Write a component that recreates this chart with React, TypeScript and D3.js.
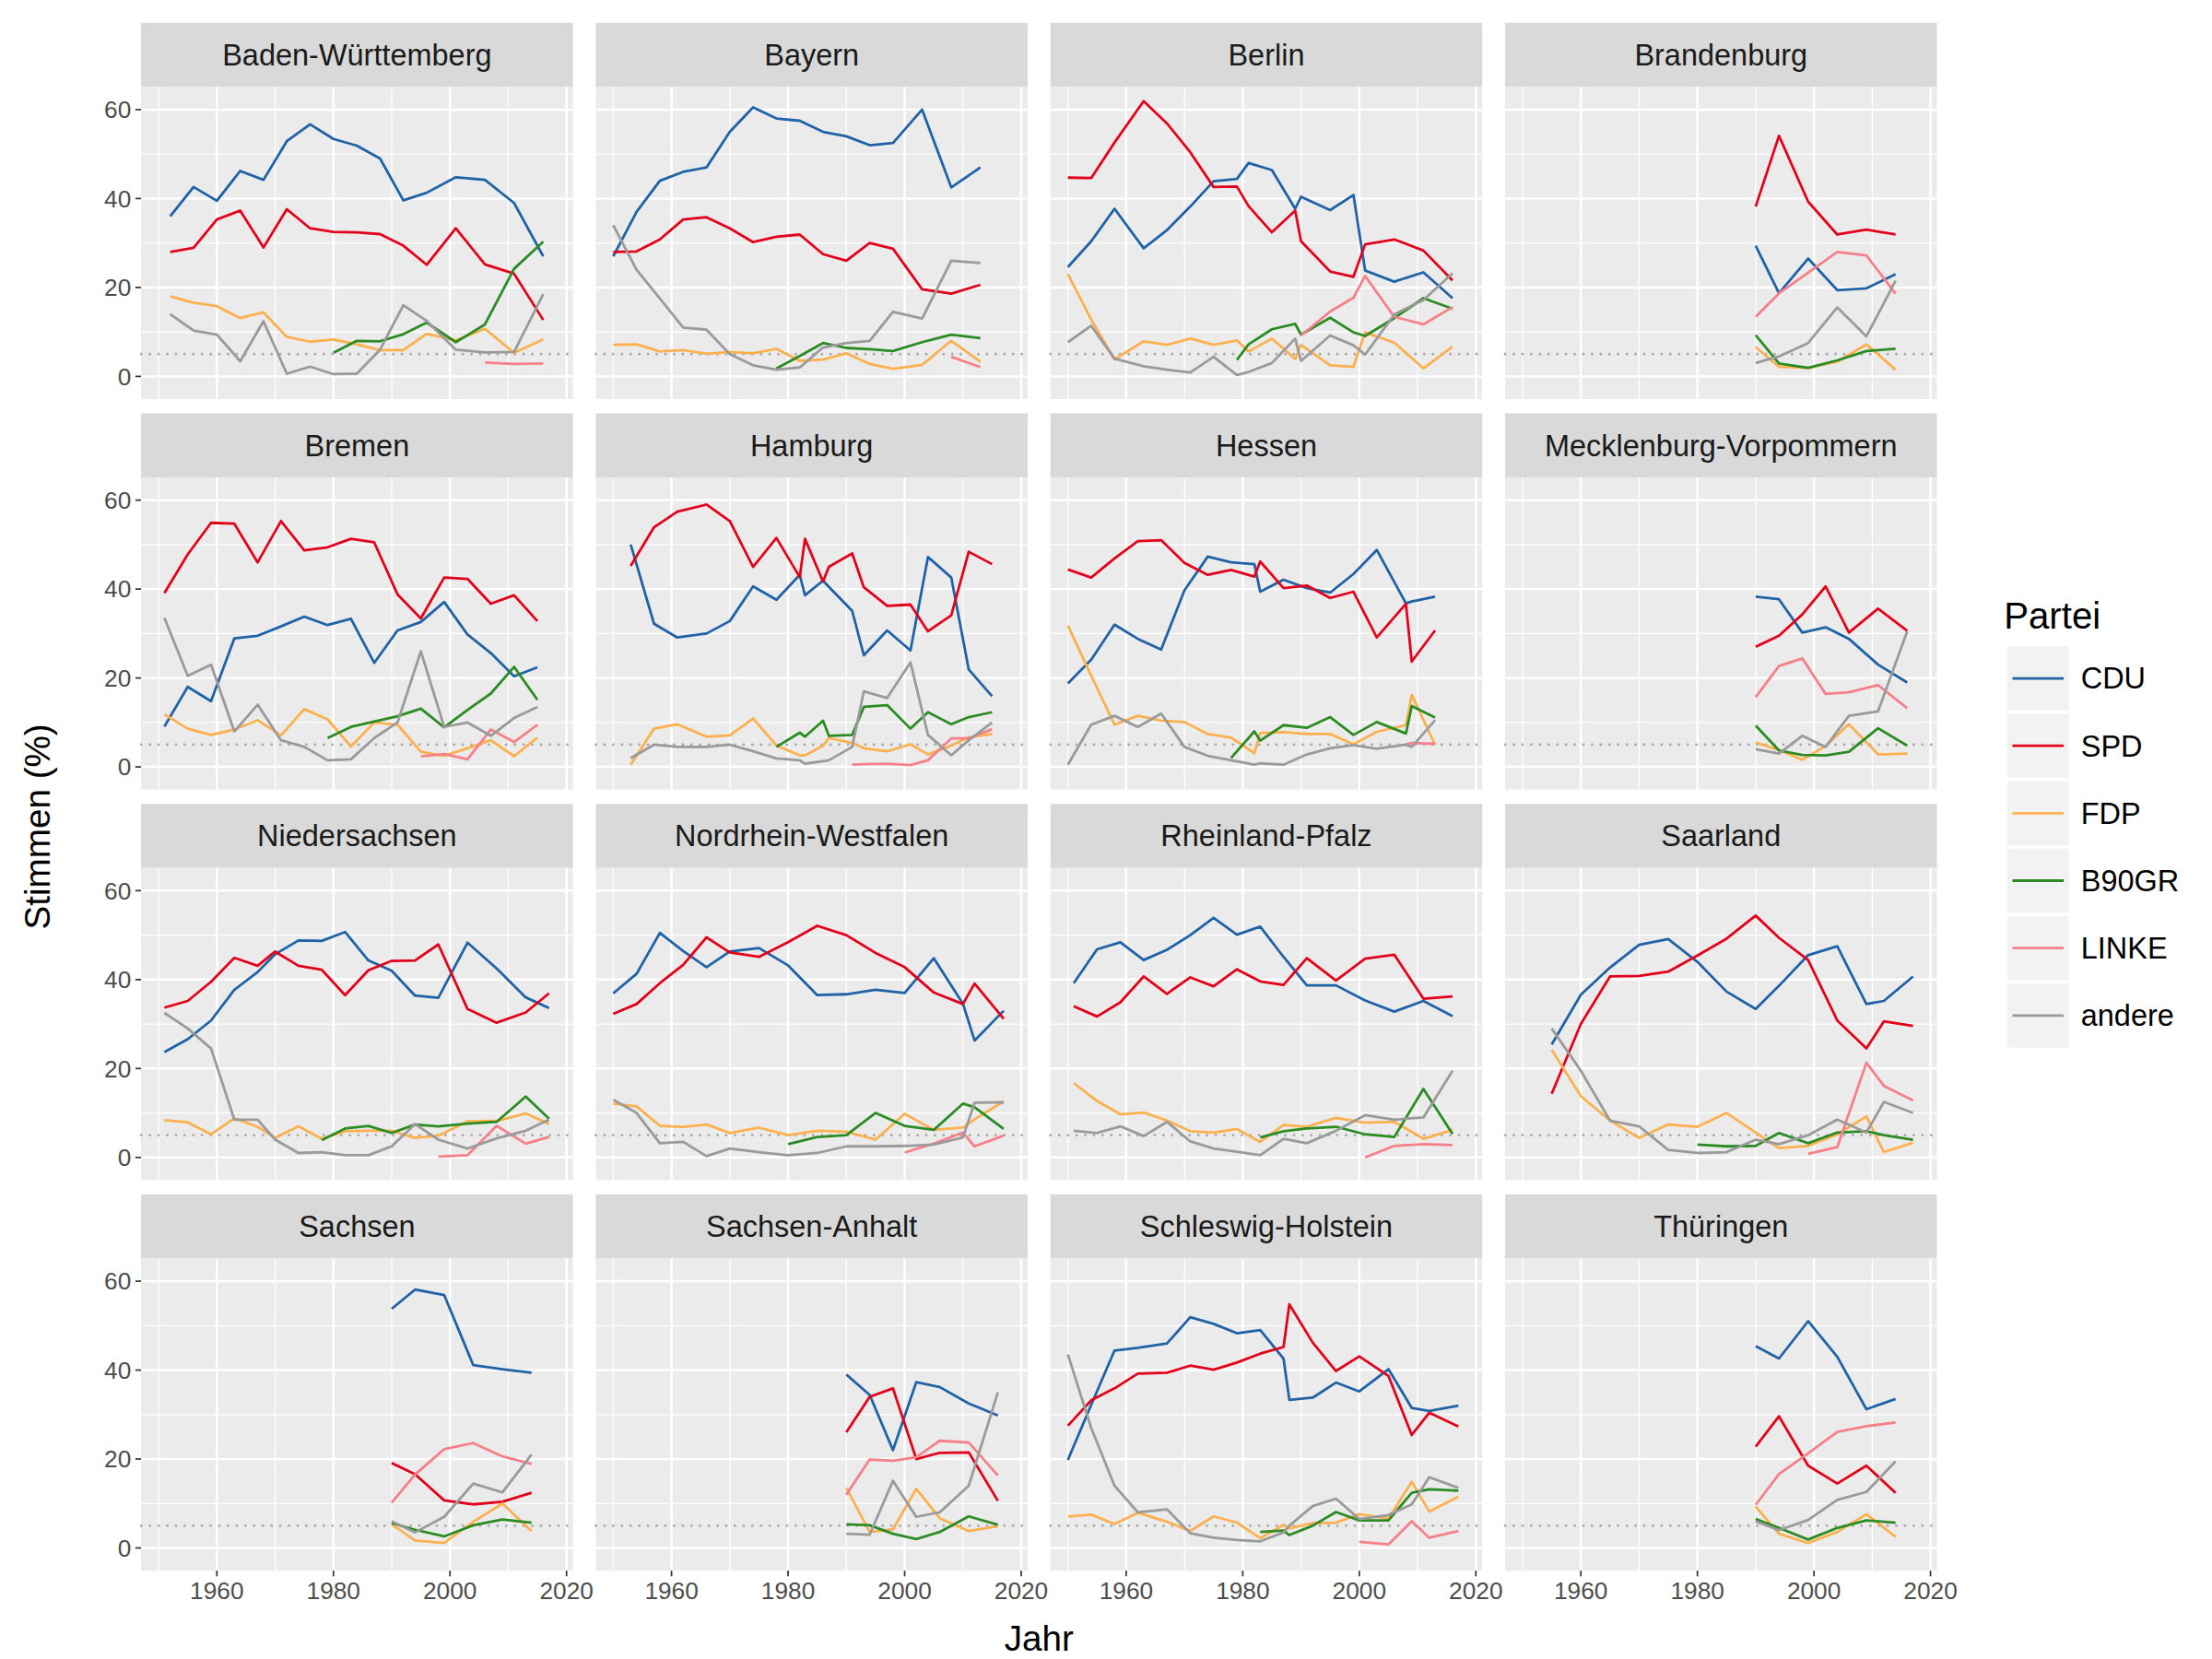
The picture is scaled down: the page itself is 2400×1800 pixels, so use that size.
import React from 'react'
import * as d3 from 'd3'

// Landtagswahlen: Stimmenanteile (%) je Partei, null = nicht angetreten
const parties = ['CDU', 'SPD', 'FDP', 'B90GR', 'LINKE', 'andere']
const partyColors = ['#1f62a5', '#e2001a', '#fdb04e', '#2a8c22', '#f6808a', '#9a9a9a']
const _ = null

const BW = {
  name: 'Baden-Württemberg',
  years: [1952, 1956, 1960, 1964, 1968, 1972, 1976, 1980, 1984, 1988, 1992, 1996, 2001, 2006, 2011, 2016],
  CDU: [36, 42.6, 39.5, 46.2, 44.2, 52.9, 56.7, 53.4, 51.9, 49, 39.6, 41.3, 44.8, 44.2, 39, 27],
  SPD: [28, 28.9, 35.3, 37.3, 29, 37.6, 33.3, 32.5, 32.4, 32, 29.4, 25.1, 33.3, 25.2, 23.1, 12.7],
  FDP: [18, 16.6, 15.8, 13.1, 14.4, 8.9, 7.8, 8.3, 7.2, 5.9, 5.9, 9.6, 8.1, 10.7, 5.3, 8.3],
  B90GR: [_, _, _, _, _, _, _, 5.3, 8, 7.9, 9.5, 12.1, 7.7, 11.7, 24.2, 30.3],
  LINKE: [_, _, _, _, _, _, _, _, _, _, _, _, _, 3.1, 2.8, 2.9],
  andere: [14, 10.3, 9.4, 3.4, 12.4, 0.6, 2.2, 0.5, 0.6, 6, 16, 12.5, 6, 5.4, 5.5, 18.5],
}
const BY = {
  name: 'Bayern',
  years: [1950, 1954, 1958, 1962, 1966, 1970, 1974, 1978, 1982, 1986, 1990, 1994, 1998, 2003, 2008, 2013],
  CDU: [27, 37, 44, 46, 47, 55, 60.5, 58, 57.5, 55, 54, 52, 52.5, 60, 42.5, 47],
  SPD: [28, 28.1, 30.8, 35.3, 35.8, 33.3, 30.2, 31.4, 31.9, 27.5, 26, 30, 28.7, 19.6, 18.6, 20.6],
  FDP: [7.1, 7.2, 5.6, 5.9, 5.1, 5.5, 5.2, 6.2, 3.5, 3.8, 5.2, 2.8, 1.7, 2.6, 8, 3.3],
  B90GR: [_, _, _, _, _, _, _, 1.8, 4.6, 7.5, 6.4, 6.1, 5.7, 7.7, 9.4, 8.6],
  LINKE: [_, _, _, _, _, _, _, _, _, _, _, _, _, _, 4.4, 2.1],
  andere: [34, 24, 17.5, 11, 10.5, 5, 2.5, 1.5, 2, 6.5, 7.5, 8, 14.5, 13, 26, 25.5],
}
const BE = {
  name: 'Berlin',
  years: [1950, 1954, 1958, 1963, 1967, 1971, 1975, 1979, 1981, 1985, 1989, 1990, 1995, 1999, 2001, 2006, 2011, 2016],
  CDU: [24.6, 30.4, 37.7, 28.8, 32.9, 38.2, 43.9, 44.4, 48, 46.4, 37.7, 40.4, 37.4, 40.8, 23.8, 21.3, 23.4, 17.6],
  SPD: [44.7, 44.6, 52.6, 61.9, 56.9, 50.4, 42.6, 42.7, 38.3, 32.4, 37.3, 30.4, 23.6, 22.4, 29.7, 30.8, 28.3, 21.6],
  FDP: [23, 12.8, 3.8, 7.9, 7.1, 8.5, 7.1, 8.1, 5.6, 8.5, 3.9, 7.1, 2.5, 2.2, 9.9, 7.6, 1.8, 6.7],
  B90GR: [_, _, _, _, _, _, _, 3.7, 7.2, 10.6, 11.8, 9.4, 13.2, 9.9, 9.1, 13.1, 17.6, 15.2],
  LINKE: [_, _, _, _, _, _, _, _, _, _, _, 9.2, 14.6, 17.7, 22.6, 13.4, 11.7, 15.6],
  andere: [7.7, 11.4, 4, 2.3, 1.5, 0.9, 4.4, 0.3, 1, 3, 8.5, 3.5, 9.2, 7, 4.9, 13.9, 17.2, 23.2],
}
const BB = {
  name: 'Brandenburg',
  years: [1990, 1994, 1999, 2004, 2009, 2014],
  CDU: [29.4, 18.7, 26.5, 19.4, 19.8, 23],
  SPD: [38.2, 54.1, 39.3, 31.9, 33, 31.9],
  FDP: [6.6, 2.2, 1.9, 3.3, 7.2, 1.5],
  B90GR: [9.3, 2.9, 1.9, 3.6, 5.7, 6.2],
  LINKE: [13.4, 18.7, 23.3, 28, 27.2, 18.6],
  andere: [3, 4.5, 7.5, 15.5, 9, 21.5],
}
const HB = {
  name: 'Bremen',
  years: [1951, 1955, 1959, 1963, 1967, 1971, 1975, 1979, 1983, 1987, 1991, 1995, 1999, 2003, 2007, 2011, 2015],
  CDU: [9.1, 18, 14.8, 28.9, 29.5, 31.6, 33.8, 31.9, 33.3, 23.4, 30.7, 32.6, 37.1, 29.8, 25.6, 20.4, 22.4],
  SPD: [39.1, 47.8, 54.9, 54.7, 46, 55.3, 48.7, 49.4, 51.3, 50.5, 38.8, 33.4, 42.6, 42.3, 36.7, 38.6, 32.8],
  FDP: [11.8, 8.6, 7.2, 8.4, 10.5, 7.1, 13, 10.7, 4.6, 10, 9.5, 3.4, 2.5, 4.2, 6, 2.4, 6.6],
  B90GR: [_, _, _, _, _, _, _, 6.5, 9, 10.2, 11.4, 13.1, 8.9, 12.8, 16.5, 22.5, 15.1],
  LINKE: [_, _, _, _, _, _, _, _, _, _, _, 2.4, 2.9, 1.7, 8.4, 5.6, 9.5],
  andere: [33.5, 20.5, 23, 8, 14, 6, 4.5, 1.5, 1.7, 6.5, 10, 26, 9, 10, 7, 11, 13.5],
}
const HH = {
  name: 'Hamburg',
  years: [1953, 1957, 1961, 1966, 1970, 1974, 1978, 1982, 1982.9, 1986, 1987, 1991, 1993, 1997, 2001, 2004, 2008, 2011, 2015],
  CDU: [50, 32.2, 29.1, 30, 32.8, 40.6, 37.6, 43.2, 38.6, 41.9, 40.5, 35.1, 25.1, 30.7, 26.2, 47.2, 42.6, 21.9, 15.9],
  SPD: [45.2, 53.9, 57.4, 59, 55.3, 45, 51.5, 42.7, 51.3, 41.7, 45, 48, 40.4, 36.2, 36.5, 30.5, 34.1, 48.4, 45.6],
  FDP: [0.5, 8.6, 9.6, 6.8, 7.1, 10.9, 4.8, 2.6, 2.6, 4.8, 6.5, 5.4, 4.2, 3.5, 5.1, 2.8, 4.8, 6.7, 7.4],
  B90GR: [_, _, _, _, _, _, 4.5, 7.7, 6.8, 10.4, 7, 7.2, 13.5, 13.9, 8.6, 12.3, 9.6, 11.2, 12.3],
  LINKE: [_, _, _, _, _, _, _, _, _, _, _, 0.5, 0.6, 0.7, 0.4, 1.5, 6.4, 6.4, 8.5],
  andere: [2, 5, 4.5, 4.5, 5, 3.5, 1.9, 1.5, 0.7, 1.3, 1.5, 4.5, 17, 15.5, 23.5, 7.2, 2.6, 6, 10],
}
const HE = {
  name: 'Hessen',
  years: [1950, 1954, 1958, 1962, 1966, 1970, 1974, 1978, 1982, 1983, 1987, 1991, 1995, 1999, 2003, 2008, 2009, 2013],
  CDU: [18.8, 24.1, 32, 28.8, 26.4, 39.7, 47.3, 46, 45.6, 39.4, 42.1, 40.2, 39.2, 43.4, 48.8, 36.8, 37.2, 38.3],
  SPD: [44.4, 42.6, 46.9, 50.8, 51, 45.9, 43.2, 44.3, 42.8, 46.2, 40.2, 40.8, 38, 39.4, 29.1, 36.7, 23.7, 30.7],
  FDP: [31.8, 20.5, 9.5, 11.5, 10.4, 10.1, 7.4, 6.6, 3.1, 7.6, 7.8, 7.4, 7.4, 5.1, 7.9, 9.4, 16.2, 5],
  B90GR: [_, _, _, _, _, _, _, 2, 8, 5.9, 9.4, 8.8, 11.2, 7.2, 10.1, 7.5, 13.7, 11.1],
  LINKE: [_, _, _, _, _, _, _, _, _, _, _, _, _, _, _, 5.1, 5.4, 5.2],
  andere: [0.5, 9.5, 11.5, 9, 12, 4.5, 2.5, 1.5, 0.5, 0.8, 0.5, 2.8, 4.2, 4.9, 4.1, 5, 4.5, 10.5],
}
const MV = {
  name: 'Mecklenburg-Vorpommern',
  years: [1990, 1994, 1998, 2002, 2006, 2011, 2016],
  CDU: [38.3, 37.7, 30.2, 31.4, 28.8, 23, 19],
  SPD: [27, 29.5, 34.3, 40.6, 30.2, 35.6, 30.6],
  FDP: [5.5, 3.8, 1.6, 4.7, 9.6, 2.8, 3],
  B90GR: [9.3, 3.7, 2.7, 2.6, 3.4, 8.7, 4.8],
  LINKE: [15.7, 22.7, 24.4, 16.4, 16.8, 18.4, 13.2],
  andere: [4, 3, 7, 4.5, 11.5, 12.5, 30.5],
}
const NI = {
  name: 'Niedersachsen',
  years: [1951, 1955, 1959, 1963, 1967, 1970, 1974, 1978, 1982, 1986, 1990, 1994, 1998, 2003, 2008, 2013, 2017],
  CDU: [23.7, 26.6, 30.8, 37.7, 41.7, 45.7, 48.8, 48.7, 50.7, 44.3, 42, 36.4, 35.9, 48.3, 42.5, 36, 33.6],
  SPD: [33.7, 35.2, 39.5, 44.9, 43.1, 46.3, 43.1, 42.2, 36.5, 42.1, 44.2, 44.3, 47.9, 33.4, 30.3, 32.6, 36.9],
  FDP: [8.4, 7.9, 5.2, 8.8, 6.9, 4.4, 7, 4.2, 5.9, 6, 6, 4.4, 4.9, 8.1, 8.2, 9.9, 7.5],
  B90GR: [_, _, _, _, _, _, _, 3.9, 6.5, 7.1, 5.5, 7.4, 7, 7.6, 8, 13.7, 8.7],
  LINKE: [_, _, _, _, _, _, _, _, _, _, _, _, 0.2, 0.5, 7.1, 3.1, 4.6],
  andere: [32.5, 29, 24.5, 8.5, 8.5, 4, 1, 1.2, 0.5, 0.5, 2.5, 7.5, 4, 2, 4.3, 6, 8.5],
}
const NW = {
  name: 'Nordrhein-Westfalen',
  years: [1950, 1954, 1958, 1962, 1966, 1970, 1975, 1980, 1985, 1990, 1995, 2000, 2005, 2010, 2012, 2017],
  CDU: [36.9, 41.3, 50.5, 46.4, 42.8, 46.3, 47.1, 43.2, 36.5, 36.7, 37.7, 37, 44.8, 34.6, 26.3, 33],
  SPD: [32.3, 34.5, 39.2, 43.3, 49.5, 46.1, 45.1, 48.4, 52.1, 50, 46, 42.8, 37.1, 34.5, 39.1, 31.2],
  FDP: [12.1, 11.5, 7.1, 6.9, 7.4, 5.5, 6.7, 5, 6, 5.8, 4, 9.8, 6.2, 6.7, 8.6, 12.6],
  B90GR: [_, _, _, _, _, _, _, 3, 4.6, 5, 10, 7.1, 6.2, 12.1, 11.3, 6.4],
  LINKE: [_, _, _, _, _, _, _, _, _, _, _, 1.1, 3.1, 5.6, 2.5, 4.9],
  andere: [13, 10, 3.2, 3.5, 0.3, 2, 1.2, 0.5, 1, 2.5, 2.5, 2.6, 2.9, 4.5, 12.3, 12.4],
}
const RP = {
  name: 'Rheinland-Pfalz',
  years: [1951, 1955, 1959, 1963, 1967, 1971, 1975, 1979, 1983, 1987, 1991, 1996, 2001, 2006, 2011, 2016],
  CDU: [39.2, 46.8, 48.4, 44.4, 46.7, 50, 53.9, 50.1, 51.9, 45.1, 38.7, 38.7, 35.3, 32.8, 35.2, 31.8],
  SPD: [34, 31.7, 34.9, 40.7, 36.8, 40.5, 38.5, 42.3, 39.6, 38.8, 44.8, 39.8, 44.7, 45.6, 35.7, 36.2],
  FDP: [16.7, 12.7, 9.7, 10.1, 8.3, 5.9, 5.6, 6.4, 3.5, 7.3, 6.9, 8.9, 7.8, 8, 4.2, 6.2],
  B90GR: [_, _, _, _, _, _, _, _, 4.5, 5.9, 6.5, 6.9, 5.2, 4.6, 15.4, 5.3],
  LINKE: [_, _, _, _, _, _, _, _, _, _, _, _, 0, 2.6, 3, 2.8],
  andere: [6, 5.5, 7, 4.8, 8, 3.6, 2, 1.3, 0.5, 4.2, 3.2, 6, 9.5, 8.5, 9, 19.5],
}
const SL = {
  name: 'Saarland',
  years: [1955, 1960, 1965, 1970, 1975, 1980, 1985, 1990, 1994, 1999, 2004, 2009, 2012, 2017],
  CDU: [25.4, 36.6, 42.7, 47.8, 49.1, 44, 37.3, 33.4, 38.6, 45.5, 47.5, 34.5, 35.2, 40.7],
  SPD: [14.3, 30, 40.7, 40.8, 41.8, 45.4, 49.2, 54.4, 49.4, 44.4, 30.8, 24.5, 30.6, 29.6],
  FDP: [24.2, 13.8, 8.3, 4.4, 7.4, 6.9, 10, 5.6, 2.1, 2.6, 5.2, 9.2, 1.2, 3.3],
  B90GR: [_, _, _, _, _, 2.9, 2.5, 2.6, 5.5, 3.2, 5.6, 5.9, 5, 4],
  LINKE: [_, _, _, _, _, _, _, _, _, 0.8, 2.3, 21.3, 16.1, 12.8],
  andere: [29, 19.5, 8.3, 7, 1.7, 1, 1.2, 4, 3, 5, 8.5, 5.6, 12.5, 10],
}
const SN = {
  name: 'Sachsen',
  years: [1990, 1994, 1999, 2004, 2009, 2014],
  CDU: [53.8, 58.1, 56.9, 41.1, 40.2, 39.4],
  SPD: [19.1, 16.6, 10.7, 9.8, 10.4, 12.4],
  FDP: [5.3, 1.7, 1.1, 5.9, 10, 3.8],
  B90GR: [5.6, 4.1, 2.6, 5.1, 6.4, 5.7],
  LINKE: [10.2, 16.5, 22.2, 23.6, 20.6, 18.9],
  andere: [6, 3.5, 7, 14.5, 12.5, 21],
}
const ST = {
  name: 'Sachsen-Anhalt',
  years: [1990, 1994, 1998, 2002, 2006, 2011, 2016],
  CDU: [39, 34.4, 22, 37.3, 36.2, 32.5, 29.8],
  SPD: [26, 34, 35.9, 20, 21.4, 21.5, 10.6],
  FDP: [13.5, 3.6, 4.2, 13.3, 6.7, 3.8, 4.9],
  B90GR: [5.3, 5.1, 3.2, 2, 3.6, 7.1, 5.2],
  LINKE: [12, 19.9, 19.6, 20.4, 24.1, 23.7, 16.3],
  andere: [3.2, 3, 15.1, 7, 8, 14, 35],
}
const SH = {
  name: 'Schleswig-Holstein',
  years: [1950, 1954, 1958, 1962, 1967, 1971, 1975, 1979, 1983, 1987, 1988, 1992, 1996, 2000, 2005, 2009, 2012, 2017],
  CDU: [19.8, 32.2, 44.4, 45, 46, 51.9, 50.4, 48.3, 49, 42.6, 33.3, 33.8, 37.2, 35.2, 40.2, 31.5, 30.8, 32],
  SPD: [27.5, 33.2, 35.9, 39.2, 39.4, 41, 40.1, 41.7, 43.7, 45.2, 54.8, 46.2, 39.8, 43.1, 38.7, 25.4, 30.4, 27.3],
  FDP: [7.1, 7.5, 5.4, 7.9, 5.9, 3.8, 7.1, 5.7, 2.2, 5.2, 4.4, 5.6, 5.7, 7.6, 6.6, 14.9, 8.2, 11.5],
  B90GR: [_, _, _, _, _, _, _, _, 3.6, 3.9, 2.9, 5, 8.1, 6.2, 6.2, 12.4, 13.2, 12.9],
  LINKE: [_, _, _, _, _, _, _, _, _, _, _, _, _, 1.4, 0.8, 6, 2.3, 3.8],
  andere: [43.5, 27, 14, 8, 8.7, 3.3, 2.3, 1.8, 1.5, 3.5, 5, 9.4, 11.1, 6.5, 7.4, 9.8, 15.9, 13.5],
}
const TH = {
  name: 'Thüringen',
  years: [1990, 1994, 1999, 2004, 2009, 2014],
  CDU: [45.4, 42.6, 51, 43, 31.2, 33.5],
  SPD: [22.8, 29.6, 18.5, 14.5, 18.5, 12.4],
  FDP: [9.3, 3.2, 1.1, 3.6, 7.6, 2.5],
  B90GR: [6.5, 4.5, 1.9, 4.5, 6.2, 5.7],
  LINKE: [9.7, 16.6, 21.3, 26.1, 27.4, 28.2],
  andere: [6, 4, 6.3, 10.8, 12.6, 19.5],
}

const states = [BW, BY, BE, BB, HB, HH, HE, MV, NI, NW, RP, SL, SN, ST, SH, TH]
const xTicks = [1960, 1980, 2000, 2020]
const yTicks = [0, 20, 40, 60]

const W = 1552
const H = 1164
const panelX0 = 99
const panelW = 303
const colStep = 319
const rowY0 = 16
const stripH = 45
const panelH = 219
const rowStep = 274
const font = 'Liberation Sans, Arial, sans-serif'

export default function App() {
  const x = d3.scaleLinear().domain([1947.0, 2021.1]).range([0, panelW])
  const y = d3.scaleLinear().domain([-5.1, 65.1]).range([panelH, 0])
  const xMinor = [1950, 1970, 1990, 2010]
  const yMinor = [10, 30, 50]

  return (
    <svg width={2400} height={1800} viewBox={`0 0 ${W} ${H}`}
      style={{ position: 'absolute', left: 0, top: 0, background: '#fff' }}
      fontFamily={font}>
      {states.map((s, i) => {
        const col = i % 4
        const row = Math.floor(i / 4)
        const px = panelX0 + col * colStep
        const sy = rowY0 + row * rowStep
        const py = sy + stripH
        return (
          <g key={s.name}>
            <rect x={px} y={sy} width={panelW} height={stripH} fill="#d9d9d9" />
            <text x={px + panelW / 2} y={sy + stripH / 2} dy="0.35em" textAnchor="middle"
              fontSize={21} fill="#1a1a1a">{s.name}</text>
            <g transform={`translate(${px},${py})`}>
              <rect width={panelW} height={panelH} fill="#ebebeb" />
              {xMinor.map((t) => (
                <line key={'xm' + t} x1={x(t)} x2={x(t)} y1={0} y2={panelH} stroke="#fff" strokeWidth={0.8} />
              ))}
              {yMinor.map((t) => (
                <line key={'ym' + t} x1={0} x2={panelW} y1={y(t)} y2={y(t)} stroke="#fff" strokeWidth={0.8} />
              ))}
              {xTicks.map((t) => (
                <line key={'x' + t} x1={x(t)} x2={x(t)} y1={0} y2={panelH} stroke="#fff" strokeWidth={1.6} />
              ))}
              {yTicks.map((t) => (
                <line key={'y' + t} x1={0} x2={panelW} y1={y(t)} y2={y(t)} stroke="#fff" strokeWidth={1.6} />
              ))}
              <line x1={0} x2={panelW} y1={y(5)} y2={y(5)} stroke="#aaaaaa" strokeWidth={1.8}
                strokeDasharray="0.1 6" strokeLinecap="round" />
              {parties.map((p, k) => {
                const vals = (s as any)[p] as (number | null)[]
                const pts = s.years.map((yr, j) => [yr, vals[j]] as [number, number | null])
                const line = d3.line<[number, number | null]>()
                  .defined((d) => d[1] !== null)
                  .x((d) => x(d[0]))
                  .y((d) => y(d[1] as number))
                return (
                  <path key={p} d={line(pts) || ''} fill="none" stroke={partyColors[k]}
                    strokeWidth={1.8} strokeLinejoin="round" />
                )
              })}
              {col === 0 && yTicks.map((t) => (
                <g key={'yl' + t} transform={`translate(0,${y(t)})`}>
                  <line x1={-4} x2={0} stroke="#333" strokeWidth={1.1} />
                  <text x={-7} dy="0.35em" textAnchor="end" fontSize={17} fill="#4d4d4d">{t}</text>
                </g>
              ))}
              {row === 3 && xTicks.map((t) => (
                <g key={'xl' + t} transform={`translate(${x(t)},${panelH})`}>
                  <line y1={0} y2={4} stroke="#333" strokeWidth={1.1} />
                  <text y={20} textAnchor="middle" fontSize={17} fill="#4d4d4d">{t}</text>
                </g>
              ))}
            </g>
          </g>
        )
      })}
      <text x={729} y={1158} textAnchor="middle" fontSize={25} fill="#000">Jahr</text>
      <text transform="translate(35,580) rotate(-90)" textAnchor="middle" fontSize={25} fill="#000">Stimmen (%)</text>
      <text x={1406} y={441} fontSize={26} fill="#000">Partei</text>
      {parties.map((p, k) => {
        const cy = 476 + k * 47.3
        return (
          <g key={p}>
            <rect x={1408} y={cy - 23} width={44} height={46} fill="#f2f2f2" stroke="#fff" strokeWidth={1} />
            <line x1={1412} x2={1448} y1={cy} y2={cy} stroke={partyColors[k]} strokeWidth={1.8} />
            <text x={1460} y={cy} dy="0.35em" fontSize={21} fill="#000">{p}</text>
          </g>
        )
      })}
    </svg>
  )
}
